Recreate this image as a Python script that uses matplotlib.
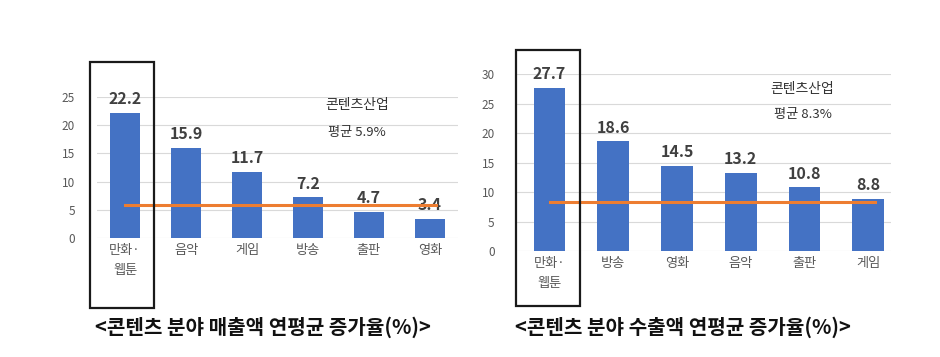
import matplotlib.pyplot as plt
from matplotlib.patches import Rectangle

plt.rcParams['font.family'] = ['Noto Sans CJK KR', 'DejaVu Sans']

# 매출액 연평균 증가율
sales_cats = ["만화·\n웹툰", "음악", "게임", "방송", "출판", "영화"]
sales_vals = [22.2, 15.9, 11.7, 7.2, 4.7, 3.4]
sales_avg = 5.9

# 수출액 연평균 증가율
export_cats = ["만화·\n웹툰", "방송", "영화", "음악", "출판", "게임"]
export_vals = [27.7, 18.6, 14.5, 13.2, 10.8, 8.8]
export_avg = 8.3

BLUE = "#4472C4"
ORANGE = "#ED7D31"
GRID = "#D9D9D9"
TICK = "#595959"

fig = plt.figure(figsize=(9.4, 3.57), dpi=100)


def draw(ax, cats, vals, avg, ymax, xlim, box, note_xy, title, title_x):
    x = list(range(len(cats)))
    ax.bar(x, vals, width=0.5, color=BLUE, zorder=2)
    ax.plot([x[0], x[-1] + 0.1], [avg, avg], color=ORANGE, lw=2.2, zorder=4)
    for xi, v in zip(x, vals):
        ax.annotate(f"{v}", (xi, v), xytext=(0, 10), textcoords="offset points",
                    ha="center", va="center", fontsize=11.5, fontweight="bold",
                    color="#404040", zorder=3, annotation_clip=False)
    ax.set_xlim(*xlim)
    ax.set_ylim(0, ymax)
    ax.set_yticks(range(0, ymax + 1, 5))
    ax.set_xticks(x)
    ax.set_xticklabels(cats, linespacing=1.7)
    ax.tick_params(axis="both", length=0, colors=TICK)
    ax.tick_params(axis="y", pad=16, labelsize=8.5)
    ax.tick_params(axis="x", pad=4, labelsize=9.5)
    for lab in ax.get_xticklabels():
        lab.set_verticalalignment("top")
    ax.grid(axis="y", color=GRID, lw=0.8, zorder=0)
    for s in ax.spines.values():
        s.set_visible(False)
    ax.add_patch(Rectangle((box[0], box[1]), box[2], box[3], fill=False,
                           ec="#1a1a1a", lw=1.6, clip_on=False, zorder=5))
    ax.text(note_xy[0], note_xy[1], "콘텐츠산업", ha="center", va="center",
            fontsize=10, color="#333333")
    ax.text(note_xy[0], note_xy[1] - note_xy[2], "평균 %.1f%%" % avg, ha="center",
            va="center", fontsize=9.5, color="#333333")
    fig.text(title_x, 1 - 327 / 357, title, ha="center", va="center",
             fontsize=14.5, fontweight="bold", color="#111111")


ax1 = fig.add_axes([0.1032, 0.3333, 0.384, 0.395])
draw(ax1, sales_cats, sales_vals, sales_avg, 25, (-0.46, 5.46),
     (-0.57, -12.4, 1.05, 43.6), (3.8, 23.5, 4.8),
     "<콘텐츠 분야 매출액 연평균 증가율(%)>", 263 / 940)

ax2 = fig.add_axes([0.55, 0.2969, 0.398, 0.495])
draw(ax2, export_cats, export_vals, export_avg, 30, (-0.51, 5.36),
     (-0.53, -9.3, 1.01, 43.5), (3.97, 27.5, 4.4),
     "<콘텐츠 분야 수출액 연평균 증가율(%)>", 683 / 940)

fig.savefig("out.png", dpi=100)
